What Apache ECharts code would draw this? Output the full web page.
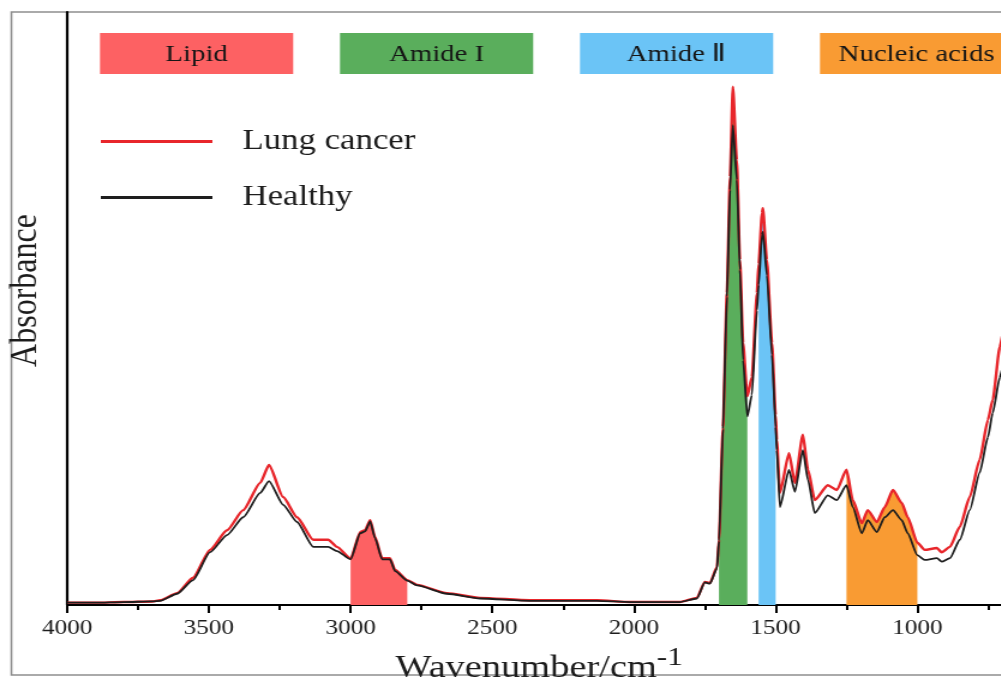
<!DOCTYPE html>
<html>
<head>
<meta charset="utf-8">
<script src="https://cdn.jsdelivr.net/npm/echarts@6/dist/echarts.min.js"></script>
<style>
  html, body { margin: 0; padding: 0; background: #fff; overflow: hidden; }
  /* the figure is drawn narrower and widened horizontally, like the published plot */
  #chart { width: 834px; height: 677px; transform: scaleX(1.2); transform-origin: 0 0; }
</style>
</head>
<body>
<div id="chart"></div>
<script>
// FTIR spectra, wavenumber in cm^-1 (descending) and absorbance (a.u.)
const wavenumbers = [4000, 3900, 3800, 3700, 3672, 3612, 3556, 3496, 3436, 3379, 3319, 3288, 3238, 3189, 3132, 3079, 3048,
  3000, 2966, 2949, 2931, 2914, 2889, 2861, 2843, 2800, 2765, 2660, 2543, 2367, 2130, 2014, 1838, 1778, 1750, 1732, 1707,
  1700, 1686, 1672, 1661, 1651, 1637, 1626, 1615, 1600, 1584, 1566, 1560, 1548, 1545, 1531, 1513, 1500, 1496, 1485,
  1453, 1432, 1404, 1386, 1362, 1316, 1284, 1250, 1228, 1196, 1175, 1143, 1115, 1086, 1055, 1034, 1000, 974, 931,
  914, 885, 850, 815, 780, 751, 734, 709, 700];

const lungCancer = [0.004, 0.004, 0.005, 0.006, 0.008, 0.020, 0.046, 0.093, 0.126, 0.160, 0.206, 0.236, 0.182, 0.148, 0.110, 0.110, 0.098,
  0.078, 0.123, 0.126, 0.143, 0.115, 0.079, 0.079, 0.059, 0.042, 0.034, 0.020, 0.012, 0.008, 0.008, 0.005, 0.005, 0.012, 0.039, 0.037, 0.064,
  0.110, 0.300, 0.526, 0.722, 0.874, 0.750, 0.582, 0.442, 0.352, 0.384, 0.526, 0.575, 0.661, 0.669, 0.582, 0.442, 0.320, 0.278, 0.189,
  0.256, 0.206, 0.287, 0.228, 0.177, 0.202, 0.194, 0.228, 0.177, 0.138, 0.160, 0.140, 0.165, 0.194, 0.172, 0.148, 0.105, 0.093, 0.096,
  0.089, 0.098, 0.132, 0.182, 0.245, 0.312, 0.346, 0.435, 0.455];

const healthy = [0.004, 0.004, 0.005, 0.006, 0.007, 0.019, 0.042, 0.089, 0.118, 0.148, 0.189, 0.209, 0.169, 0.140, 0.098, 0.098, 0.091,
  0.077, 0.121, 0.124, 0.141, 0.113, 0.077, 0.077, 0.057, 0.041, 0.033, 0.019, 0.011, 0.007, 0.007, 0.005, 0.005, 0.011, 0.038, 0.036, 0.062,
  0.108, 0.297, 0.520, 0.700, 0.809, 0.717, 0.565, 0.413, 0.318, 0.354, 0.497, 0.540, 0.624, 0.629, 0.556, 0.422, 0.300, 0.261, 0.165,
  0.228, 0.191, 0.261, 0.211, 0.155, 0.185, 0.177, 0.202, 0.165, 0.121, 0.143, 0.123, 0.148, 0.160, 0.143, 0.121, 0.084, 0.076, 0.079,
  0.073, 0.079, 0.110, 0.160, 0.223, 0.283, 0.324, 0.384, 0.400];

// assigned spectral bands: [low, high] wavenumber
const bandNames = ['Lipid', 'Amide I', 'Amide \u2161', 'Nucleic acids'];
const bandRanges = [[2800, 3000], [1600, 1700], [1500, 1560], [1000, 1250]];
const bandColors = ['#fd6163', '#5aae5c', '#6bc4f6', '#f99b33'];

const seriesNames = ['Lung cancer', 'Healthy'];
const axisNames = { x: 'Wavenumber/cm', xSup: '-1', y: 'Absorbance' };

const serif = '"Liberation Serif", "Times New Roman", serif';

const pairs = vals => wavenumbers.map((w, i) => [w, vals[i]]);

const bandSeries = bandRanges.map((r, i) => ({
  name: bandNames[i],
  type: 'line',
  data: pairs(lungCancer).filter(p => p[0] >= r[0] && p[0] <= r[1]),
  showSymbol: false,
  smooth: 0.2,
  smoothMonotone: 'x',
  lineStyle: { width: 0, opacity: 0 },
  areaStyle: { color: bandColors[i], opacity: 1 },
  z: 1,
  silent: true
}));

const graphics = [{
  type: 'rect', silent: true, z: -10,
  shape: { x: 9.5, y: 12, width: 900, height: 663 },
  style: { fill: 'none', stroke: '#8e8e8e', lineWidth: 1.6 }
}];
bandNames.forEach((name, i) => {
  const x = 83.3 + 200 * i;
  graphics.push({
    type: 'rect', silent: true,
    shape: { x: x, y: 33, width: 161, height: 41 },
    style: { fill: bandColors[i] }
  });
  graphics.push({
    type: 'text', silent: true, z: 10,
    style: {
      text: name, x: x + 80.5, y: 55,
      align: 'center', verticalAlign: 'middle',
      textAlign: 'center', textVerticalAlign: 'middle',
      fontSize: 24, fontFamily: serif, fill: '#161616'
    }
  });
});

const chart = echarts.init(document.getElementById('chart'));
chart.setOption({
  animation: false,
  backgroundColor: '#fff',
  grid: { left: 56, top: 12, bottom: 72, right: -48.5, containLabel: false, outerBoundsMode: 'none' },
  legend: {
    data: seriesNames,
    orient: 'vertical',
    left: 84, top: 124,
    padding: 0,
    icon: 'rect',
    itemWidth: 93, itemHeight: 3,
    itemGap: 21,
    textStyle: { fontFamily: serif, fontSize: 29, color: '#1c1c1c', lineHeight: 30, padding: [5, 0, 0, 20] }
  },
  xAxis: {
    type: 'value',
    inverse: true,
    min: 500, max: 4000,
    interval: 500,
    name: '{a|' + axisNames.x + '}{b|' + axisNames.xSup + '}',
    nameLocation: 'middle',
    nameGap: 40,
    nameTextStyle: {
      padding: [0, 40, 0, 0],
      rich: {
        a: { fontFamily: serif, fontSize: 32, color: '#1c1c1c', lineHeight: 40, verticalAlign: 'bottom' },
        b: { fontFamily: serif, fontSize: 26, color: '#1c1c1c', lineHeight: 22, verticalAlign: 'top' }
      }
    },
    axisLine: { lineStyle: { color: '#000', width: 2 } },
    axisTick: { show: true, inside: false, length: 8, lineStyle: { color: '#000', width: 2 } },
    minorTick: { show: true, splitNumber: 2, length: 5, lineStyle: { color: '#000', width: 2 } },
    splitLine: { show: false },
    minorSplitLine: { show: false },
    axisLabel: { fontFamily: serif, fontSize: 21, color: '#1c1c1c', margin: 13, formatter: v => String(v) }
  },
  yAxis: {
    type: 'value',
    min: 0, max: 1,
    name: axisNames.y,
    nameLocation: 'middle',
    nameRotate: 90,
    nameGap: 18,
    nameTextStyle: { fontFamily: serif, fontSize: 32, color: '#1c1c1c', padding: [0, 0, 0, 36] },
    axisLine: { show: true, lineStyle: { color: '#000', width: 2.2 } },
    axisTick: { show: false },
    axisLabel: { show: false },
    splitLine: { show: false }
  },
  series: bandSeries.concat([
    {
      name: seriesNames[0], type: 'line', data: pairs(lungCancer),
      showSymbol: false, smooth: 0.2, smoothMonotone: 'x',
      itemStyle: { color: '#e8262b' },
      lineStyle: { color: '#e8262b', width: 2.4 }, z: 3
    },
    {
      name: seriesNames[1], type: 'line', data: pairs(healthy),
      showSymbol: false, smooth: 0.2, smoothMonotone: 'x',
      itemStyle: { color: '#1e1e1e' },
      lineStyle: { color: '#1e1e1e', width: 1.8 }, z: 4
    }
  ]),
  graphic: graphics
});
</script>
</body>
</html>
